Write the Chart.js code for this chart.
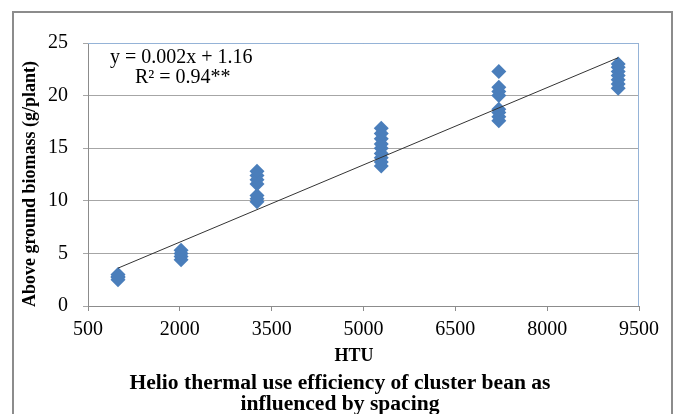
<!DOCTYPE html>
<html>
<head>
<meta charset="utf-8">
<script src="https://cdn.jsdelivr.net/npm/chart.js@4.4.1/dist/chart.umd.min.js"></script>
<style>
  html, body { margin: 0; padding: 0; background: #fff; }
  #wrap { width: 683px; height: 414px; position: relative; }
</style>
</head>
<body>
<div id="wrap"><canvas id="htuChart"></canvas></div>
<script>
// HTU values for each sampling stage, and biomass readings at each
const htuStages = [990, 2020, 3260, 5290, 7210, 9160];
const biomass1 = [2.5, 2.7, 2.8, 3.0];
const biomass2 = [4.4, 4.7, 5.0, 5.3];
const biomass3 = [9.9, 10.2, 10.5, 11.6, 12.0, 12.4, 12.8];
const biomass4 = [13.3, 13.7, 14.1, 14.5, 15.0, 15.4, 15.9, 16.4, 16.9];
const biomass5 = [17.6, 18.0, 18.4, 18.7, 20.0, 20.4, 20.8, 22.3];
const biomass6 = [20.7, 21.1, 21.5, 21.9, 22.3, 22.7, 23.0];

// trend line end points
const trendX = [990, 9160];
const trendY = [3.6, 23.6];

const xTicks = [500, 2000, 3500, 5000, 6500, 8000, 9500];

const allBiomass = [biomass1, biomass2, biomass3, biomass4, biomass5, biomass6];
const points = [];
allBiomass.forEach((vals, i) => {
    vals.forEach(v => points.push({ x: htuStages[i], y: v }));
});

const serif = "'Liberation Serif', 'Times New Roman', serif";

// draws the frame, axis titles, equation and caption
const decorations = {
    id: "decorations",
    afterDraw(chart) {
        const ctx = chart.ctx;
        const area = chart.chartArea;
        ctx.save();

        // outer frame
        ctx.strokeStyle = "#8c8c8c";
        ctx.lineWidth = 2;
        ctx.beginPath();
        ctx.moveTo(13, 420);
        ctx.lineTo(13, 12);
        ctx.lineTo(672, 12);
        ctx.lineTo(672, 420);
        ctx.stroke();

        // plot border top/right
        ctx.strokeStyle = "#95b3d7";
        ctx.lineWidth = 1;
        ctx.beginPath();
        ctx.moveTo(area.left, area.top + 0.5);
        ctx.lineTo(area.right - 0.5, area.top + 0.5);
        ctx.lineTo(area.right - 0.5, area.bottom);
        ctx.stroke();

        ctx.fillStyle = "#000";

        // equation
        ctx.font = "20px " + serif;
        ctx.textAlign = "left";
        ctx.textBaseline = "middle";
        ctx.fillText("y = 0.002x + 1.16", 110, 58);
        ctx.fillText("R² = 0.94**", 135, 78);

        // y title
        ctx.font = "bold 18px " + serif;
        ctx.textAlign = "center";
        ctx.save();
        ctx.translate(30, 184);
        ctx.rotate(-Math.PI / 2);
        ctx.fillText("Above ground biomass (g/plant)", 0, 0);
        ctx.restore();

        // x title
        ctx.fillText("HTU", 354, 356);

        // caption
        ctx.font = "bold 20px " + serif;
        const lines = ["Helio thermal use efficiency of cluster bean as", "influenced by spacing"];
        const full = ctx.measureText(lines[0]).width;
        const sx = 421 / full;
        ctx.save();
        ctx.translate(340, 0);
        ctx.scale(sx, 1);
        ctx.fillText(lines[0], 0, 384);
        ctx.fillText(lines[1], 0, 405);
        ctx.restore();

        ctx.restore();
    }
};

new Chart(document.getElementById("htuChart").getContext("2d"), {
    type: "scatter",
    data: {
        datasets: [{
            label: "Biomass",
            data: points,
            pointStyle: "rectRot",
            pointRadius: 7.5,
            pointHoverRadius: 7.5,
            backgroundColor: "#4a7ebb",
            borderColor: "#4a7ebb",
            borderWidth: 0,
            order: 2
        }, {
            label: "Trend",
            type: "line",
            data: trendX.map((x, i) => ({ x: x, y: trendY[i] })),
            borderColor: "#333",
            borderWidth: 1,
            pointRadius: 0,
            fill: false,
            order: 1
        }]
    },
    options: {
        responsive: true,
        maintainAspectRatio: false,
        animation: false,
        layout: { padding: { top: 43, right: 44, left: 0, bottom: 0 } },
        plugins: {
            legend: { display: false },
            tooltip: { enabled: false }
        },
        scales: {
            x: {
                type: "linear",
                min: 500,
                max: 9500,
                afterBuildTicks: axis => { axis.ticks = xTicks.map(v => ({ value: v })); },
                afterFit: axis => { axis.height = 108; },
                grid: { display: true, drawOnChartArea: false, tickLength: 5, color: "#8c8c8c" },
                border: { color: "#8c8c8c", width: 1 },
                ticks: {
                    color: "#000",
                    font: { family: serif, size: 20 },
                    padding: 7,
                    maxRotation: 0,
                    autoSkip: false,
                    callback: v => String(v)
                }
            },
            y: {
                min: 0,
                max: 25,
                afterFit: axis => { axis.width = 88; },
                grid: { color: "#a6a6a6", tickLength: 5 },
                border: { color: "#8c8c8c", width: 1 },
                ticks: {
                    stepSize: 5,
                    color: "#000",
                    font: { family: serif, size: 20 },
                    padding: 15,
                    callback: v => String(v)
                }
            }
        }
    },
    plugins: [decorations]
});
</script>
</body>
</html>
